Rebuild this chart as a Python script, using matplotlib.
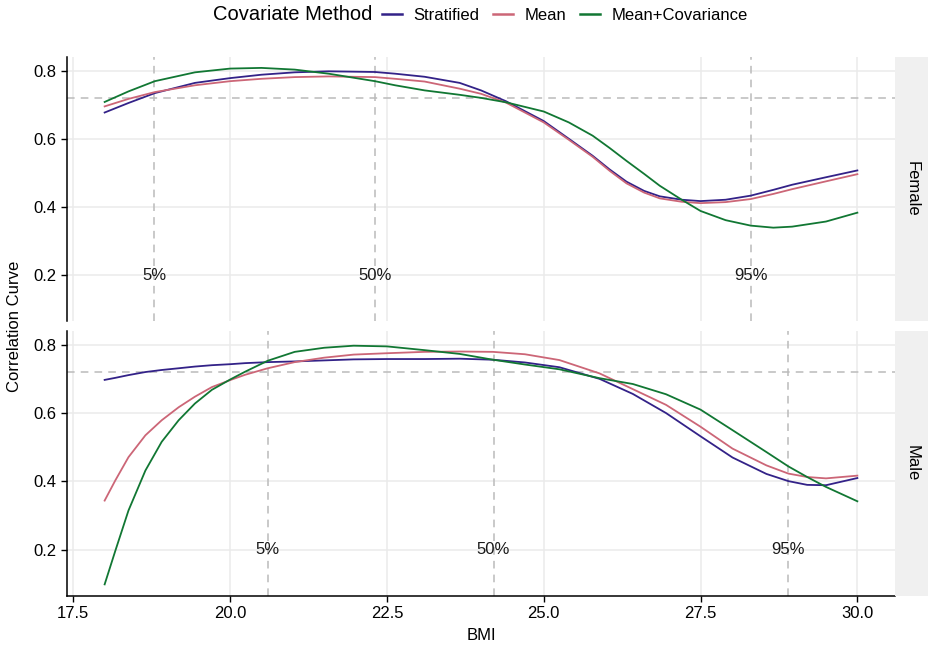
import numpy as np
import matplotlib
matplotlib.use('Agg')
import matplotlib.pyplot as plt
from matplotlib.lines import Line2D

plt.rcParams['font.family'] = ['Liberation Sans', 'DejaVu Sans']

bmi_f = [18.0, 18.38, 18.8, 19.44, 20.0, 20.5, 21.03, 21.57, 22.31, 22.63, 23.1, 23.66,
         24.0, 24.4, 25.0, 25.4, 25.78, 26.05, 26.32, 26.6, 26.85, 27.2, 27.5, 27.9,
         28.3, 28.66, 28.96, 29.5, 30.0]
fem_strat = [0.677, 0.705, 0.734, 0.764, 0.778, 0.788, 0.795, 0.798, 0.796, 0.791, 0.782,
             0.764, 0.742, 0.710, 0.652, 0.600, 0.550, 0.510, 0.474, 0.447, 0.431, 0.421,
             0.417, 0.421, 0.433, 0.450, 0.465, 0.487, 0.507]
fem_mean = [0.695, 0.717, 0.737, 0.757, 0.769, 0.776, 0.781, 0.783, 0.781, 0.776, 0.768,
            0.747, 0.732, 0.706, 0.648, 0.597, 0.547, 0.506, 0.469, 0.442, 0.425, 0.415,
            0.411, 0.414, 0.423, 0.438, 0.452, 0.475, 0.496]
fem_cov = [0.708, 0.739, 0.769, 0.795, 0.806, 0.808, 0.803, 0.791, 0.769, 0.757, 0.742,
           0.729, 0.720, 0.707, 0.680, 0.648, 0.609, 0.573, 0.535, 0.497, 0.462, 0.421,
           0.388, 0.361, 0.345, 0.339, 0.342, 0.357, 0.383]

bmi_m = [18.0, 18.17, 18.38, 18.65, 18.91, 19.18, 19.44, 19.71, 20.01, 20.24, 20.6, 21.03,
         21.5, 21.97, 22.5, 23.1, 23.66, 24.19, 24.7, 25.25, 25.89, 26.42, 26.95, 27.5,
         28.01, 28.55, 28.9, 29.2, 29.5, 30.0]
male_strat = [0.697, 0.703, 0.711, 0.720, 0.726, 0.731, 0.736, 0.740, 0.743, 0.746, 0.749,
              0.751, 0.754, 0.757, 0.758, 0.758, 0.759, 0.756, 0.748, 0.734, 0.700, 0.656,
              0.600, 0.532, 0.470, 0.422, 0.401, 0.390, 0.389, 0.410]
male_mean = [0.344, 0.403, 0.471, 0.535, 0.579, 0.617, 0.648, 0.676, 0.697, 0.712, 0.731,
             0.749, 0.762, 0.771, 0.775, 0.779, 0.780, 0.779, 0.772, 0.755, 0.716, 0.670,
             0.624, 0.560, 0.496, 0.447, 0.423, 0.413, 0.409, 0.417]
male_cov = [0.099, 0.197, 0.315, 0.432, 0.516, 0.579, 0.628, 0.668, 0.699, 0.721, 0.753,
            0.779, 0.791, 0.797, 0.795, 0.784, 0.773, 0.756, 0.742, 0.728, 0.702, 0.685,
            0.655, 0.610, 0.550, 0.486, 0.444, 0.413, 0.384, 0.342]

methods = ['Stratified', 'Mean', 'Mean+Covariance']
colors = ['#332288', '#CC6677', '#117733']

panels = ['Female', 'Male']
curves = {'Female': (bmi_f, [fem_strat, fem_mean, fem_cov]),
          'Male': (bmi_m, [male_strat, male_mean, male_cov])}
quant_labels = ['5%', '50%', '95%']
quant_pos = {'Female': [18.79, 22.31, 28.3], 'Male': [20.6, 24.2, 28.9]}
hline = 0.72

W, H = 929, 645
fig = plt.figure(figsize=(W / 100, H / 100), dpi=100)

left, right = 67, 895
boxes = [(57, 321), (331, 596)]
fs = 12

for i, name in enumerate(panels):
    top, bot = boxes[i]
    ax = fig.add_axes([left / W, 1 - bot / H, (right - left) / W, (bot - top) / H])
    x, ys = curves[name]
    ax.set_xlim(17.4, 30.6)
    ax.set_ylim(0.065, 0.84)
    ax.set_xticks([17.5, 20.0, 22.5, 25.0, 27.5, 30.0])
    ax.set_xticklabels(['17.5', '20.0', '22.5', '25.0', '27.5', '30.0'])
    ax.set_yticks([0.2, 0.4, 0.6, 0.8])
    ax.set_yticklabels(['0.2', '0.4', '0.6', '0.8'])
    ax.grid(True, color='#EBEBEB', lw=1.1)
    ax.set_axisbelow(True)
    for s in ['top', 'right']:
        ax.spines[s].set_visible(False)
    ax.spines['left'].set_linewidth(1.1)
    ax.tick_params(axis='both', labelsize=fs, length=4, width=1.0, colors='black')
    if i == 0:
        ax.spines['bottom'].set_visible(False)
        ax.tick_params(axis='x', length=0, labelbottom=False)
    else:
        ax.spines['bottom'].set_linewidth(1.1)

    ax.axhline(hline, color='#BBBBBB', ls=(0, (5, 4)), lw=1.1, zorder=1)
    for q, lab in zip(quant_pos[name], quant_labels):
        ax.axvline(q, color='#BBBBBB', ls=(0, (5, 4)), lw=1.1, zorder=1)
        ax.text(q, 0.2, lab, ha='center', va='center', fontsize=fs, color='#1a1a1a')

    for yv, c in zip(ys, colors):
        ax.plot(x, yv, color=c, lw=1.3, zorder=3, solid_joinstyle='round')

    # facet strip on the right
    sax = fig.add_axes([right / W, 1 - bot / H, (W - right) / W, (bot - top) / H])
    sax.set_facecolor('#F0F0F0')
    sax.set_xticks([])
    sax.set_yticks([])
    for s in sax.spines.values():
        s.set_visible(False)
    sax.text(0.5, 0.5, name, rotation=-90, ha='center', va='center', fontsize=fs,
             transform=sax.transAxes)

fig.text(481 / W, 1 - 636 / H, 'BMI', ha='center', va='center', fontsize=fs)
fig.text(15 / W, 1 - 326 / H, 'Correlation Curve', ha='center', va='center',
         rotation=90, fontsize=fs)

fig.text(372 / W, 1 - 15 / H, 'Covariate Method', ha='right', va='center', fontsize=14.5)
handles = [Line2D([], [], color=c, lw=1.8) for c in colors]
fig.legend(handles, methods, loc='center left', bbox_to_anchor=(382 / W, 1 - 15 / H),
           ncol=3, frameon=False, fontsize=fs, handlelength=1.2, handletextpad=0.7,
           columnspacing=0.8, borderaxespad=0, borderpad=0)

fig.savefig('out.png', dpi=100)
